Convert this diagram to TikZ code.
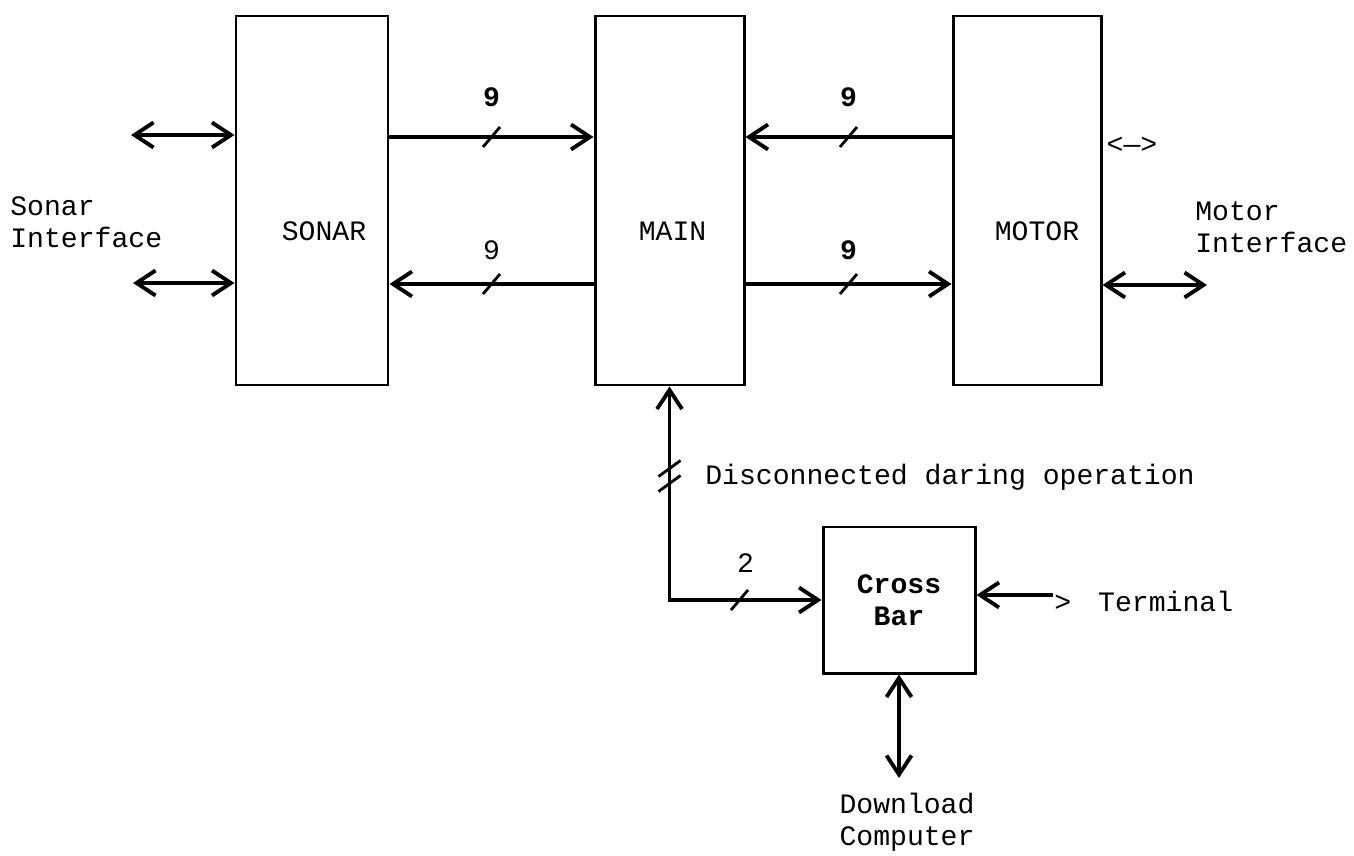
\documentclass[tikz,border=0pt]{standalone}
\usepackage{fontspec}
\setmainfont{Liberation Mono}
\usetikzlibrary{arrows.meta,decorations.markings}

\tikzset{
    block/.style={draw, line width=1.7pt, minimum height=7.38cm, inner sep=0pt},
    txt/.style={inner sep=0pt, align=left},
    wire/.style={line width=2.2pt},
    tick/.style={-, line width=1.6pt},
    slash/.style={postaction={decorate}, decoration={markings,
        mark=at position #1 with {\draw[tick] (-0.17,-0.2) -- (0.17,0.2);}}},
}

\begin{document}
\begin{tikzpicture}[>={Straight Barb[length=3.8mm,width=5mm]},
    every node/.style={font=\fontsize{16}{18}\selectfont}]
    \useasboundingbox (0,0) rectangle (27.08,-17.12);

    % Nodes
    \node[block, minimum width=3.04cm] (SONAR) at (6.24,-4.01) {};
    \node[block, minimum width=2.98cm] (MAIN) at (13.39,-4.01) {};
    \node[block, minimum width=2.96cm] (MOTOR) at (20.54,-4.01) {};
    \node[block, minimum width=3.04cm, minimum height=2.92cm, align=center,
        font=\fontsize{16}{18}\selectfont\bfseries] (CrossBar) at (17.98,-12.0) {Cross\\Bar};

    \node (sonarLabel) at (6.48,-4.62) {SONAR};
    \node (mainLabel) at (13.45,-4.62) {MAIN};
    \node (motorLabel) at (20.74,-4.62) {MOTOR};

    \node[txt, anchor=west] (sonarIf) at (0.2,-4.44) {Sonar\\Interface};
    \node[txt, anchor=west] (motorIf) at (23.9,-4.54) {Motor\\Interface};
    \node[txt] (motorPort) at (22.64,-2.9) {<—>};
    \node[txt, anchor=west] (disc) at (14.1,-9.55) {Disconnected daring operation};
    \node[txt, anchor=west] (term) at (21.08,-12.02) {>\hspace{0.54cm}Terminal};
    \node[txt, align=center] (download) at (18.14,-16.44) {Download\\Computer};

    \coordinate (rowA) at (0,-2.74);
    \coordinate (rowB) at (0,-5.68);
    \coordinate (sonarA) at (2.62,-2.7);
    \coordinate (sonarB) at (2.66,-5.66);
    \coordinate (motorOut) at (24.14,-5.7);
    \coordinate (termEnd) at (21.06,-11.9);
    \coordinate (dlEnd) at (18.0,-15.56);

    % Edges
    \draw[wire, <->] (sonarA) -- (SONAR.west |- sonarA);
    \draw[wire, <->] (sonarB) -- (SONAR.west |- sonarB);
    \draw[wire, ->, slash=.5] (SONAR.east |- rowA) -- node[pos=.5, yshift=.8cm,
        font=\fontsize{16}{18}\selectfont\bfseries] (busA) {9} (MAIN.west |- rowA);
    \draw[wire, <-, slash=.5] (SONAR.east |- rowB) -- node[pos=.5, yshift=.68cm] (busB) {9} (MAIN.west |- rowB);
    \draw[wire, <-, slash=.5] (MAIN.east |- rowA) -- node[pos=.5, yshift=.8cm,
        font=\fontsize{16}{18}\selectfont\bfseries] (busC) {9} (MOTOR.west |- rowA);
    \draw[wire, ->, slash=.5] (MAIN.east |- rowB) -- node[pos=.5, yshift=.68cm,
        font=\fontsize{16}{18}\selectfont\bfseries] (busD) {9} (MOTOR.west |- rowB);
    \draw[wire, <->] (MOTOR.east |- motorOut) -- (motorOut);

    \draw[wire, <->, postaction={decorate}, decoration={markings,
        mark=at position 1.64cm with {\draw[tick] (-0.17,-0.2) -- (0.17,0.2);},
        mark=at position 5.37cm with {\draw[tick] (-0.16,0.22) -- (0.16,-0.22);},
        mark=at position 5.67cm with {\draw[tick] (-0.16,0.22) -- (0.16,-0.22);}}]
        (CrossBar.west) -| node[pos=.25, yshift=.74cm] (busE) {2} (MAIN.south);

    \draw[wire, ->] (termEnd) -- (CrossBar.east |- termEnd);
    \draw[wire, <->] (CrossBar.south) -- (CrossBar.south |- dlEnd);
\end{tikzpicture}
\end{document}
